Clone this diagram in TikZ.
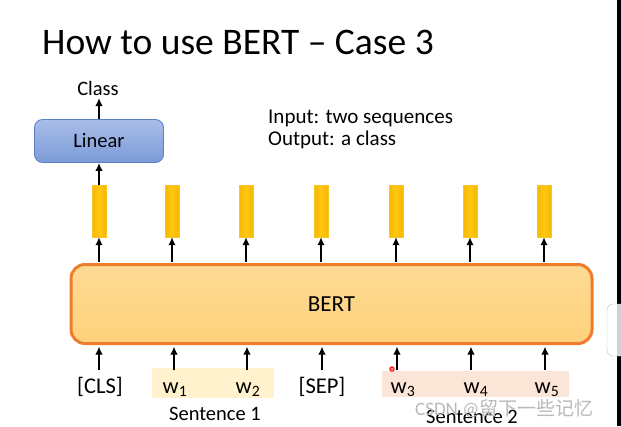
\documentclass[tikz,border=0pt]{standalone}
\usepackage{fontspec}
\setmainfont{Carlito}
\newfontfamily\cjk{Noto Sans CJK SC}
\usetikzlibrary{arrows.meta}
\definecolor{linfillT}{HTML}{A9BDE8}
\definecolor{linfillB}{HTML}{7B9BD8}
\definecolor{linborder}{HTML}{5B7FC6}
\definecolor{bertT}{HTML}{FDDA94}
\definecolor{bertB}{HTML}{FFD27C}
\definecolor{bertborder}{HTML}{EE7D2E}
\definecolor{barmid}{HTML}{FFC612}
\definecolor{baredge}{HTML}{F7BA00}
\definecolor{sentA}{HTML}{FFF2CC}
\definecolor{sentB}{HTML}{FBE5D6}
\tikzset{
  x=1pt, y=-1pt,
  arr/.style={-{Latex[length=8pt,width=7.5pt]}, line width=2.2pt, black},
  vecbar/.style={minimum width=14pt, minimum height=52pt, inner sep=0pt,
     left color=baredge, right color=baredge, middle color=barmid, draw=baredge!85!white, line width=0.4pt},
  lbl/.style={font=\fontsize{20.5}{24}\selectfont, inner sep=0pt},
  tok/.style={font=\fontsize{22.5}{26}\selectfont, inner sep=0pt, anchor=base},
}
\begin{document}
\begin{tikzpicture}
\useasboundingbox (0,0) rectangle (621,426);
\fill[white] (0,0) rectangle (621,426);
\fill[black] (617,0) rectangle (621,426);
% side tab
\draw[gray!50, fill=white, rounded corners=6pt] (621,304) -- (607,304) -- (607,356) -- (621,356);
\fill[gray!35] (617,304) rectangle (621,356);
% title
\node[anchor=base west, inner sep=0pt, font=\fontsize{37.5}{44}\selectfont] (title) at (42,54) {How to use BERT – Case 3};
% input/output
\node[anchor=base west, inner sep=0pt, font=\fontsize{21}{24}\selectfont] (inp) at (268,123) {Input: two sequences};
\node[anchor=base west, inner sep=0pt, font=\fontsize{21}{24}\selectfont] (outp) at (268,145) {Output: a class};
% sentence backgrounds
\fill[sentA] (152,368) rectangle (274,398);
\fill[sentB] (382,371) rectangle (569,397);
% BERT box
\node[draw=bertborder, line width=3pt, rounded corners=14pt, top color=bertT, bottom color=bertB,
      minimum width=521pt, minimum height=79pt, inner sep=0pt] (bert) at (331.5,304) {};
\node[font=\fontsize{23}{27}\selectfont, inner sep=0pt] (berttxt) at (bert.center) {BERT};
% Linear
\node[draw=linborder, line width=0.8pt, rounded corners=8pt, top color=linfillT, bottom color=linfillB,
      minimum width=129pt, minimum height=43pt, inner sep=0pt, font=\fontsize{20.5}{24}\selectfont] (lin) at (99,141) {Linear};
\node[anchor=base, lbl] (cls) at (98,95) {Class};
% bars
\foreach \i/\x in {1/99,2/172,3/246,4/321,5/396,6/470,7/544}{
  \node[vecbar] (b\i) at (\x,211) {};
}
% tokens
\node[tok] (t1) at (100,393) {[CLS]};
\node[tok] (t2) at (175,393) {w\textsubscript{1}};
\node[tok] (t3) at (248,393) {w\textsubscript{2}};
\node[tok] (t4) at (322,393) {[SEP]};
\node[tok] (t5) at (403,393) {w\textsubscript{3}};
\node[tok] (t6) at (476,393) {w\textsubscript{4}};
\node[tok] (t7) at (547,393) {w\textsubscript{5}};
\foreach \x/\n in {99/1,174/2,247/3,322/4,397/5,471/6,545/7}{
  \coordinate (in\n) at (\x,370);
  \coordinate (bi\n) at (\x,346.5);
  \coordinate (bo\n) at (\x,262);
  \draw[arr] (in\n) -- (bi\n);
}
\foreach \n in {1,...,7}{
  \draw[arr] (bo\n -| b\n) -- (b\n.south);
}
\draw[arr] (b1.north) -- (lin.south);
\coordinate (clsb) at (99,98);
\draw[arr] (lin.north) -- (clsb);
% sentence labels
\node[anchor=base, inner sep=0pt, font=\fontsize{20.5}{24}\selectfont] (s1) at (215,420) {Sentence 1};
\node[anchor=base, inner sep=0pt, font=\fontsize{20.5}{24}\selectfont] (s2) at (472,423) {Sentence 2};
% cursor dot
\draw[red, line width=1pt, fill=red!40] (392,369) circle (2.2pt);
% watermark
\node[anchor=base west, inner sep=0pt, text=gray!55, font=\fontsize{19}{22}\selectfont] (wm) at (415,415) {CSDN @{\cjk 留下一些记忆}};
\end{tikzpicture}
\end{document}
